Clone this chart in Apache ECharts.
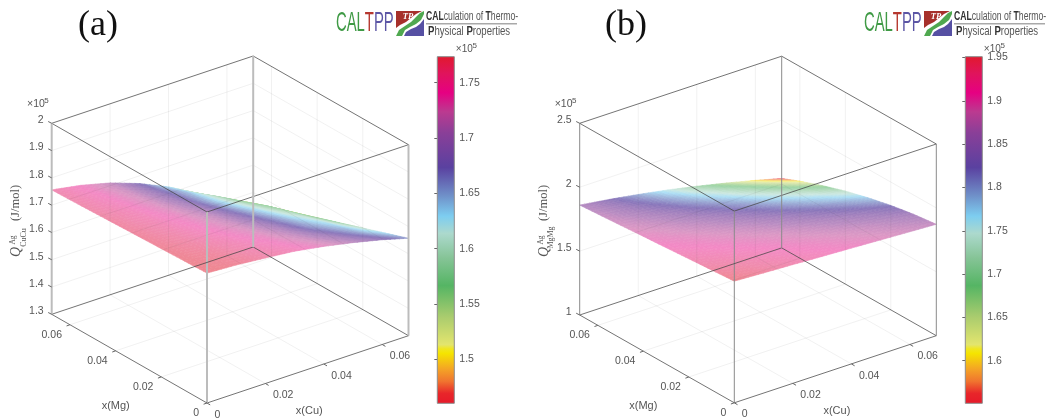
<!DOCTYPE html>
<html><head><meta charset="utf-8">
<style>html,body{margin:0;padding:0;background:#fff}#c{width:1046px;height:420px;filter:blur(.4px)}</style>
<script src="https://cdn.jsdelivr.net/npm/echarts@6/dist/echarts.min.js"></script>
</head><body><div id="c"></div>
<script>
// Composition grids (mole fraction)
const xCu = [0, 0.01, 0.02, 0.03, 0.04, 0.05, 0.06, 0.069];
const xMg = [0, 0.01, 0.02, 0.03, 0.04, 0.05, 0.06, 0.068];
// Rows follow xMg, columns follow xCu; values in 10^5 J/mol
const qCuCu = [
 [1.776,1.770,1.760,1.749,1.731,1.709,1.684,1.657],
 [1.773,1.765,1.753,1.738,1.715,1.688,1.658,1.628],
 [1.770,1.760,1.745,1.726,1.700,1.666,1.637,1.599],
 [1.767,1.755,1.738,1.715,1.684,1.650,1.615,1.570],
 [1.764,1.751,1.731,1.704,1.668,1.632,1.592,1.541],
 [1.761,1.746,1.723,1.692,1.652,1.612,1.568,1.512],
 [1.758,1.741,1.716,1.681,1.642,1.592,1.536,1.483],
 [1.756,1.737,1.710,1.672,1.624,1.564,1.505,1.460]];
const qMgMg = [
 [1.952,1.940,1.929,1.917,1.906,1.894,1.882,1.872],
 [1.938,1.928,1.916,1.903,1.890,1.877,1.862,1.849],
 [1.925,1.913,1.900,1.886,1.870,1.853,1.835,1.817],
 [1.911,1.898,1.882,1.865,1.845,1.823,1.799,1.776],
 [1.898,1.881,1.862,1.840,1.815,1.787,1.757,1.727],
 [1.884,1.863,1.839,1.811,1.780,1.745,1.706,1.669],
 [1.871,1.844,1.813,1.778,1.739,1.696,1.649,1.603],
 [1.860,1.828,1.791,1.750,1.703,1.652,1.597,1.543]];
const compTicks = [0, 0.02, 0.04, 0.06];
const compTickLabels = ['0', '0.02', '0.04', '0.06'];
const zTicksA = [1.3, 1.4, 1.5, 1.6, 1.7, 1.8, 1.9, 2];
const zTickLabelsA = ['1.3', '1.4', '1.5', '1.6', '1.7', '1.8', '1.9', '2'];
const zTicksB = [1, 1.5, 2, 2.5];
const zTickLabelsB = ['1', '1.5', '2', '2.5'];
const barTicksA = [1.5, 1.55, 1.6, 1.65, 1.7, 1.75];
const barTicksB = [1.6, 1.65, 1.7, 1.75, 1.8, 1.85, 1.9, 1.95];
const colorStops = [[0,'#e6192a'],[.03,'#e8262a'],[.065,'#f0752f'],[.1,'#f4a425'],[.145,'#f5e400'],[.158,'#f0e620'],[.17,'#e3e56e'],[.25,'#aacc6e'],[.34,'#55b564'],[.42,'#86c497'],[.49,'#acd9cd'],[.54,'#7dcdf0'],[.6,'#6f8fc8'],[.68,'#5a41a0'],[.78,'#8a3f98'],[.84,'#bb3a90'],[.895,'#e60082'],[.95,'#e0145c'],[1,'#e1192d']];
// surface transparency along the colour scale
const alphaStops = [[0,.55],[.5,.6],[.68,.72],[.84,.52],[.9,.46],[1,.52]];

const SUB = 6;
const panels = [
 {name:'a', q:qCuCu, zMin:1.3, zMax:2, zTicks:zTicksA, zLabels:zTickLabelsA, cMin:1.4602, cMax:1.7735, barTicks:barTicksA,
  o:[207,403], cu:[201.5,-67.3], mg:[-155.3,-88.7], h:191, frame:{color:'#bcbcbc',width:2}, barLeft:437.3, dx:0, sub:'CuCu'},
 {name:'b', q:qMgMg, zMin:1, zMax:2.5, zTicks:zTicksB, zLabels:zTickLabelsB, cMin:1.5508, cMax:1.951, barTicks:barTicksB,
  o:[211.3,402.8], cu:[202,-67.1], mg:[-154.6,-87.8], h:191.7, frame:{color:'#8a8a8a',width:1}, barLeft:965.3, dx:527.6, sub:'MgMg'}
];
const cuMax = xCu[xCu.length-1], mgMax = xMg[xMg.length-1];
function proj(p, c, m, z){
  const a=c/cuMax, b=m/mgMax;
  return [p.o[0]+a*p.cu[0]+b*p.mg[0], p.o[1]+a*p.cu[1]+b*p.mg[1]-(z-p.zMin)/(p.zMax-p.zMin)*p.h];
}
function hexRgb(h){return [1,3,5].map(i=>parseInt(h.substr(i,2),16));}
function cmap(f){
  f=Math.max(0,Math.min(1,f));
  for(let i=1;i<colorStops.length;i++){
    if(f<=colorStops[i][0]){
      const [f0,c0]=colorStops[i-1],[f1,c1]=colorStops[i];
      const t=(f-f0)/(f1-f0),A=hexRgb(c0),B=hexRgb(c1);
      return A.map((v,k)=>v+(B[k]-v)*t);
    }
  }
  return hexRgb(colorStops[colorStops.length-1][1]);
}
function alphaAt(f){
  f=Math.max(0,Math.min(1,f));
  for(let i=1;i<alphaStops.length;i++){
    if(f<=alphaStops[i][0]){
      const [f0,a0]=alphaStops[i-1],[f1,a1]=alphaStops[i];
      return a0+(a1-a0)*(f-f0)/(f1-f0);
    }
  }
  return alphaStops[alphaStops.length-1][1];
}
function tint(f){const rgb=cmap(f),al=alphaAt(f);return 'rgb('+rgb.map(v=>Math.round(255+(v-255)*al)).join(',')+')';}

const grids=[], xAxes=[], yAxes=[], series=[];
panels.forEach((p,pi)=>{
  // hidden projection plane
  grids.push({left:pi*523,top:0,width:523,height:420,show:false});
  xAxes.push({type:'value',gridIndex:pi,min:0,max:523,show:false});
  yAxes.push({type:'value',gridIndex:pi,min:0,max:420,inverse:true,show:false});
});
panels.forEach((p,pi)=>{
  // colour bar with its own real axis
  const gi=2+pi;
  grids.push({left:p.barLeft,top:56.7,width:17,height:346.6,show:false});
  xAxes.push({type:'value',gridIndex:gi,min:0,max:1,show:false});
  yAxes.push({type:'value',gridIndex:gi,min:p.cMin,max:p.cMax,position:'right',
    axisLine:{show:false},splitLine:{show:false},
    axisTick:{show:true,inside:true,length:3,customValues:p.barTicks,lineStyle:{color:'#666',width:1}},
    axisLabel:{show:true,margin:5,customValues:p.barTicks,formatter:v=>String(+(+v).toFixed(2)),color:'#555',fontFamily:'Liberation Sans',fontSize:10.5}});
  series.push({type:'custom',xAxisIndex:gi,yAxisIndex:gi,silent:true,animation:false,z:2,clip:false,data:[[0]],
    renderItem:(params,api)=>{
      const a=api.coord([0,p.cMin]),b=api.coord([1,p.cMax]);
      return {type:'rect',shape:{x:a[0],y:b[1],width:b[0]-a[0],height:a[1]-b[1]},
        style:{fill:new echarts.graphic.LinearGradient(0,1,0,0,colorStops.map(s=>({offset:s[0],color:s[1]}))),stroke:'#8c8c8c',lineWidth:1}};
    }});
});
panels.forEach((p,pi)=>{
  // surface, painted from the back corner to the front corner
  const cells=[];
  for(let j=xMg.length-2;j>=0;j--)for(let i=xCu.length-2;i>=0;i--)cells.push([i,j]);
  series.push({type:'custom',name:'Q '+p.name,xAxisIndex:pi,yAxisIndex:pi,silent:true,animation:false,progressive:0,clip:false,z:3,data:cells,
    renderItem:(params,api)=>{
      const i=api.value(0),j=api.value(1),q=p.q,kids=[];
      const at=(u,v)=>{
        const z=(1-u)*(1-v)*q[j][i]+u*(1-v)*q[j][i+1]+(1-u)*v*q[j+1][i]+u*v*q[j+1][i+1];
        return {z,c:xCu[i]+u*(xCu[i+1]-xCu[i]),m:xMg[j]+v*(xMg[j+1]-xMg[j])};
      };
      for(let a=SUB-1;a>=0;a--)for(let b=SUB-1;b>=0;b--){
        const cs=[at(a/SUB,b/SUB),at((a+1)/SUB,b/SUB),at((a+1)/SUB,(b+1)/SUB),at(a/SUB,(b+1)/SUB)];
        const zm=(cs[0].z+cs[1].z+cs[2].z+cs[3].z)/4;
        const col=tint((zm-p.cMin)/(p.cMax-p.cMin));
        kids.push({type:'polygon',shape:{points:cs.map(k=>api.coord(proj(p,k.c,k.m,k.z)))},style:{fill:col,stroke:col,lineWidth:.6}});
      }
      return {type:'group',children:kids};
    }});
  // grid lines + box
  const segs=[];
  const G={color:'rgba(60,60,60,.07)',width:1}, B={color:'rgba(70,70,70,.75)',width:1};
  const {zMin:z0,zMax:z1}=p;
  compTicks.slice(1).forEach(t=>{
    segs.push([[t,0,z0],[t,mgMax,z0],G],[[t,mgMax,z0],[t,mgMax,z1],G]);
    segs.push([[0,t,z0],[cuMax,t,z0],G],[[cuMax,t,z0],[cuMax,t,z1],G]);
  });
  p.zTicks.slice(1,-1).forEach(z=>{
    segs.push([[0,mgMax,z],[cuMax,mgMax,z],G],[[cuMax,mgMax,z],[cuMax,0,z],G]);
  });
  [[0,0],[cuMax,0],[cuMax,mgMax],[0,mgMax]].forEach(([c,m],k,arr)=>{
    const n=arr[(k+1)%4];
    segs.push([[c,m,z0],[n[0],n[1],z0],B],[[c,m,z1],[n[0],n[1],z1],B],[[c,m,z0],[c,m,z1],p.frame]);
  });
  series.push({type:'custom',xAxisIndex:pi,yAxisIndex:pi,silent:true,animation:false,clip:false,z:4,data:segs.map((s,i)=>[i]),
    renderItem:(params,api)=>{
      const s=segs[api.value(0)];
      const a=api.coord(proj(p,...s[0])),b=api.coord(proj(p,...s[1]));
      return {type:'line',shape:{x1:a[0],y1:a[1],x2:b[0],y2:b[1]},style:{stroke:s[2].color,lineWidth:s[2].width}};
    }});
  // ticks and tick labels anchored on the axes
  const marks=[];
  compTicks.forEach((t,i)=>{
    marks.push({at:[t,0,z0],tick:[3.2,1.9],text:compTickLabels[i],dx:7.5,dy:11.8,align:'left'});
    marks.push({at:[0,t,z0],tick:[-3.4,1.2],text:compTickLabels[i],dx:-8,dy:10.2,align:'right'});
  });
  p.zTicks.forEach((z,i)=>marks.push({at:[0,mgMax,z],tick:[-3.5,-1.8],text:p.zLabels[i],dx:-8,dy:-3,align:'right'}));
  series.push({type:'custom',xAxisIndex:pi,yAxisIndex:pi,silent:true,animation:false,clip:false,z:5,data:marks.map((s,i)=>[i]),
    renderItem:(params,api)=>{
      const m=marks[api.value(0)],a=api.coord(proj(p,...m.at));
      return {type:'group',children:[
        {type:'line',shape:{x1:a[0],y1:a[1],x2:a[0]+m.tick[0],y2:a[1]+m.tick[1]},style:{stroke:'#666',lineWidth:1}},
        {type:'text',x:a[0]+m.dx,y:a[1]+m.dy,style:{text:m.text,fill:'#555',font:'10.5px "Liberation Sans"',align:m.align,verticalAlign:'middle'}}
      ]};
    }});
});

// Text furniture, logos
const graphic=[];
const txt=(x,y,text,font,extra)=>graphic.push(Object.assign({type:'text',x,y,silent:true,style:Object.assign({text,font,fill:'#555',align:'center',verticalAlign:'middle'},extra&&extra.style)},extra&&extra.el));
const rot={el:{rotation:Math.PI/2}};
panels.forEach(p=>{
  const d=p.dx;
  txt(309.3+d,411,'x(Cu)','11px "Liberation Sans"');
  txt(115.7+d,406,'x(Mg)','11px "Liberation Sans"');
  // exponent above z axis
  txt(36+d,104.5,'×10','10.5px "Liberation Sans"');
  txt(46.5+d,101,'5','8px "Liberation Sans"');
  // exponent above colour bar
  txt(p.barLeft+27,49.5,'×10','10px "Liberation Sans"');
  txt(p.barLeft+37.5,46,'5','8px "Liberation Sans"');
  // rotated axis name
  txt(16.5+d,252,'Q','italic 14px "Liberation Serif"',rot);
  txt(13+d,240,'Ag','7.5px "Liberation Serif"',rot);
  txt(23.5+d,237.5,p.sub,'8px "Liberation Serif"',rot);
  txt(16+d,203,'(J/mol)','12.5px "Liberation Serif"',rot);
  // logo
  const lx=d===0?0:528;
  const F='"Liberation Sans"';
  graphic.push({type:'text',x:336+lx,y:23,scaleX:.53,silent:true,style:{text:'{g|CAL}{r|T}{p|PP}',rich:{
    g:{fill:'#3f9a45',font:'28px '+F},r:{fill:'#b5372f',font:'28px '+F},p:{fill:'#5b55a5',font:'28px '+F}},align:'left',verticalAlign:'middle'}});
  const shp=(pts,fill)=>graphic.push({type:'polygon',x:lx,y:0,silent:true,shape:{points:pts},style:{fill}});
  shp([[396,11],[422,11],[416,14],[411,18],[406,22],[400,25],[396,28]],'#a6302b');
  shp([[396,36],[399,30],[405,26],[411,22],[416,17],[420,13],[424,11],[424,14],[421,20],[416,24],[410,27],[405,30],[402,36]],'#4fa84f');
  shp([[404,36],[406,32],[411,29],[416,27],[420,24],[424,19],[424,36]],'#5650a3');
  graphic.push({type:'text',x:408+lx,y:17,silent:true,style:{text:'TP',fill:'#fff',font:'italic bold 8.5px "Liberation Serif"',align:'center',verticalAlign:'middle'}});
  const rich={b:{fill:'#333',font:'bold 12px '+F},n:{fill:'#555',font:'12px '+F}};
  graphic.push({type:'text',x:426+lx,y:16.5,scaleX:.72,silent:true,style:{text:'{b|CAL}{n|culation of }{b|T}{n|hermo-}',rich,align:'left',verticalAlign:'middle'}});
  graphic.push({type:'rect',x:426+lx,y:23.5,silent:true,shape:{width:91,height:.8},style:{fill:'#555'}});
  graphic.push({type:'text',x:428+lx,y:31.5,scaleX:.8,silent:true,style:{text:'{b|P}{n|hysical }{b|P}{n|roperties}',rich,align:'left',verticalAlign:'middle'}});
});

const chart=echarts.init(document.getElementById('c'),null,{renderer:'canvas'});
chart.setOption({
  animation:false,backgroundColor:'#fff',
  title:[
    {text:'(a)',left:73,top:3,textStyle:{fontFamily:'Liberation Serif',fontSize:36,fontWeight:'normal',color:'#111'}},
    {text:'(b)',left:600,top:3,textStyle:{fontFamily:'Liberation Serif',fontSize:36,fontWeight:'normal',color:'#111'}}
  ],
  grid:grids,xAxis:xAxes,yAxis:yAxes,series,graphic
});
</script></body></html>
